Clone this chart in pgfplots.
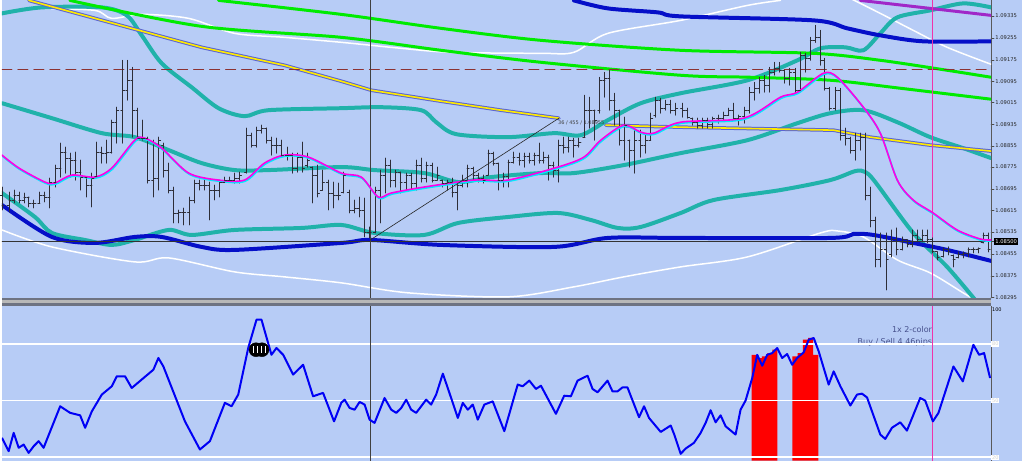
\documentclass[border=0pt]{standalone}
\usepackage{pgfplots}
\pgfplotsset{compat=1.18}
\usepackage{pgfplotstable}
\usepackage{fontspec}
\setmainfont{DejaVu Sans}

\definecolor{bg}{RGB}{183,204,246}
\definecolor{bandteal}{RGB}{32,178,170}
\definecolor{limeg}{RGB}{0,235,0}
\definecolor{dblue}{RGB}{5,15,200}
\definecolor{purp}{RGB}{160,40,200}
\definecolor{yel}{RGB}{255,235,0}
\definecolor{yelb}{RGB}{90,100,210}
\definecolor{mag}{RGB}{255,0,230}
\definecolor{cyn}{RGB}{0,235,255}
\definecolor{rsi}{RGB}{0,0,245}
\definecolor{pinkv}{RGB}{240,50,170}
\definecolor{dashred}{RGB}{140,50,50}
\definecolor{barc}{RGB}{45,45,55}
\definecolor{sepc}{RGB}{110,115,130}
\definecolor{txtb}{RGB}{70,80,140}

\pgfdeclareplotmark{otick}{\pgfpathmoveto{\pgfqpoint{-2pt}{0pt}}\pgfpathlineto{\pgfqpoint{0pt}{0pt}}\pgfusepathqstroke}
\pgfdeclareplotmark{ctick}{\pgfpathmoveto{\pgfqpoint{0pt}{0pt}}\pgfpathlineto{\pgfqpoint{2pt}{0pt}}\pgfusepathqstroke}

% OHLC bars: x position, high, low, open, close (pixel rows, price scale on right axis)
\pgfplotstableread{
x h l o c
0 187 210 195 205
7 192 212 205 200
12 190 203 200 195
17 192 203 195 200
22 193 203 200 197
27 197 207 197 203
32 200 208 203 203
38 192 202 203 195
43 192 202 195 197
48 178 208 197 182
54 165 187 182 168
59 143 177 168 152
64 147 173 152 158
69 153 177 158 160
74 152 180 160 172
79 160 190 172 177
85 177 197 177 185
90 173 207 185 178
95 142 177 176 152
100 147 163 152 153
105 140 163 153 152
110 120 153 152 122
115 107 143 122 110
121 60 143 110 90
126 60 100 90 80
131 67 137 80 110
136 108 140 110 138
141 120 140 138 138
146 137 183 138 180
152 140 197 180 178
157 137 190 178 140
162 143 177 145 170
167 163 193 170 190
172 187 223 190 213
177 210 223 213 212
182 208 225 212 212
188 197 225 212 200
193 180 203 200 183
198 180 190 183 185
203 180 190 185 185
208 182 220 185 190
213 185 200 190 190
218 180 197 190 182
223 177 182 182 180
228 177 182 180 180
233 173 183 180 178
238 172 183 178 175
245 128 173 172 135
250 133 147 135 145
255 127 147 145 130
260 125 133 130 128
265 128 143 128 140
270 137 155 140 145
275 138 153 145 145
280 140 157 145 155
286 147 160 155 155
291 153 173 155 168
296 153 172 168 157
301 142 172 157 168
306 153 167 165 160
311 167 203 167 175
316 165 197 175 193
321 170 190 190 182
327 180 210 182 193
332 182 208 193 195
337 183 200 195 195
342 172 193 192 175
348 190 213 192 210
353 200 213 210 208
358 197 217 208 210
363 198 237 210 232
368 227 238 232 232
374 187 233 232 190
379 170 223 190 175
384 158 193 175 165
389 160 187 165 180
394 170 187 180 172
399 172 193 172 182
405 173 190 182 175
410 173 190 175 183
415 160 190 183 165
420 158 182 165 178
425 162 182 178 165
431 163 182 165 180
436 167 180 180 175
441 180 187 180 183
446 180 190 183 182
451 178 197 182 192
456 183 210 192 185
461 175 187 185 180
466 165 187 180 168
472 167 180 168 175
477 173 182 175 178
482 175 183 178 180
487 150 175 175 153
492 152 165 153 163
497 163 190 163 180
502 173 187 180 176
507 160 187 176 162
512 152 163 162 157
518 153 165 157 160
523 153 167 160 156
528 153 163 156 160
533 153 165 160 155
538 143 163 155 160
543 152 163 160 157
548 155 180 157 165
553 162 177 165 170
558 140 182 170 145
563 137 153 145 147
568 137 152 147 140
573 138 157 140 145
578 138 147 145 142
584 95 137 137 110
589 97 128 110 110
594 110 140 110 120
599 77 113 110 80
604 72 97 80 78
609 70 110 78 100
614 93 125 100 110
619 110 145 110 140
624 117 160 140 125
629 140 167 140 150
634 130 173 150 140
640 130 157 140 145
645 135 153 145 140
650 113 140 140 118
655 97 117 115 100
660 98 113 100 108
665 100 110 108 104
670 100 113 104 110
675 103 115 110 108
682 103 117 108 110
687 108 118 110 117
692 118 125 118 122
697 118 128 122 125
702 118 128 125 120
707 118 128 120 124
712 117 128 124 118
718 115 123 118 118
723 112 120 118 115
728 108 115 115 110
733 103 120 110 118
738 115 125 118 116
744 107 123 116 110
749 87 113 110 92
754 82 100 92 88
759 77 93 88 80
764 75 92 80 85
769 67 92 85 72
774 62 75 72 68
779 62 72 68 70
784 70 83 70 78
789 68 85 78 72
795 68 93 72 90
800 52 90 90 55
805 53 72 55 58
810 37 60 58 40
815 25 42 40 37
820 30 65 37 60
824 58 90 60 88
829 87 110 88 108
835 87 110 108 90
840 88 140 90 135
845 128 145 135 138
850 137 153 138 150
855 133 160 150 140
860 133 150 140 137
865 133 200 137 195
870 187 227 195 220
875 217 267 220 260
880 233 267 260 250
886 233 290 250 260
891 230 257 255 240
896 228 255 240 250
902 237 250 250 240
907 240 247 240 245
912 230 247 245 235
917 230 242 235 240
922 230 242 240 235
927 230 243 235 240
932 238 253 240 252
937 252 260 252 258
943 248 257 257 250
948 247 255 250 252
953 255 267 256 260
958 252 258 258 255
963 252 258 255 254
968 248 257 254 250
973 248 253 250 250
978 248 253 250 249
983 233 243 243 235
988 233 252 235 250
}\bars

\pgfplotstableread{
x y
0 155
17 168
43 182
53 183
70 175
93 177
110 168
133 140
143 138
160 148
187 173
217 180
243 180
263 163
283 155
307 157
340 173
360 177
377 197
390 193
423 187
473 180
507 180
557 167
583 157
600 140
623 125
640 132
653 133
680 122
743 118
780 97
797 92
823 73
837 77
863 107
880 133
897 180
913 200
933 213
957 230
980 239
991 240
}\maline

\begin{document}
\begin{tikzpicture}
\fill[bg] (0,0) rectangle (1022pt,-461pt);

\begin{axis}[
  at={(0pt,0pt)}, anchor=north west, scale only axis,
  width=991pt, height=298pt,
  xmin=0, xmax=991, ymin=0, ymax=298, y dir=reverse,
  hide x axis, axis y line*=right,
  axis line style={-, draw=black!65, line width=0.8pt},
  ytick={15.7,37.5,59.7,81,102.5,124,145.7,167,189,210.7,232,254,276,297.7},
  yticklabels={1.09335,1.09255,1.09175,1.09095,1.09015,1.08935,1.08855,1.08775,1.08695,1.08615,1.08535,1.08455,1.08375,1.08295},
  yticklabel style={font=\fontsize{5.2}{6}\selectfont, text=black!85, inner sep=1.2pt},
  tick align=outside, major tick length=3pt,
  tick style={black!70, line width=0.6pt},
  extra y ticks={241.5}, extra y tick labels={1.08500},
  extra y tick style={yticklabel style={fill=black, text=white}},
  line join=round, line cap=round,
]
% white envelope lines
\addplot[white, line width=1.5pt, smooth] coordinates {(43,8)(93,10)(110,18)(140,14)(187,18)(233,33)(283,37)(340,42)(400,48)(450,52)(540,53)(573,52)(607,33)(680,20)(747,5)(780,0)};
\addplot[white, line width=1.5pt, smooth] coordinates {(850,-2)(880,13)(913,30)(947,47)(991,64)};
\addplot[white, line width=1.5pt, smooth] coordinates {(0,230)(50,247)(133,262)(167,258)(233,272)(283,277)(340,283)(407,293)(507,297)(573,287)(623,277)(680,267)(747,257)(820,233)(837,231)(863,237)(897,260)(930,273)(963,293)(975,300)};
% teal bands
\addplot[bandteal, line width=4pt, smooth] coordinates {(0,13)(40,7)(100,7)(125,15)(140,35)(160,63)(190,87)(217,108)(243,116)(267,110)(340,108)(380,107)(420,110)(435,122)(455,134)(507,137)(553,133)(580,135)(607,120)(640,103)(680,93)(747,80)(797,60)(820,48)(845,47)(863,50)(880,33)(897,17)(930,10)(963,3)(991,7)};
\addplot[bandteal, line width=4pt, smooth] coordinates {(0,103)(50,118)(100,133)(133,137)(167,150)(200,163)(233,170)(267,170)(340,167)(373,170)(423,173)(457,182)(490,177)(540,173)(573,173)(623,165)(680,153)(747,140)(797,123)(830,113)(863,110)(897,122)(930,137)(963,148)(991,158)};
\addplot[bandteal, line width=4pt, smooth] coordinates {(0,193)(33,217)(50,233)(83,240)(110,245)(133,240)(167,230)(190,235)(233,230)(300,228)(340,225)(373,233)(423,235)(457,223)(507,217)(557,213)(590,220)(617,228)(640,227)(680,213)(713,200)(780,190)(830,180)(855,171)(865,172)(875,182)(913,233)(947,267)(975,300)};
% green lines
\addplot[limeg, line width=3pt, smooth] coordinates {(217,0)(340,14)(440,28)(540,40)(680,50)(813,53)(880,60)(947,70)(991,77)};
\addplot[limeg, line width=3pt, smooth] coordinates {(68,0)(200,26)(340,37)(440,50)(540,62)(680,75)(750,77)(830,80)(900,88)(991,99)};
% dark blue lines
\addplot[dblue, line width=4pt, smooth] coordinates {(573,0)(607,8)(657,12)(680,16)(813,20)(847,28)(880,35)(923,41)(991,41)};
\addplot[dblue, line width=4pt, smooth] coordinates {(0,205)(50,237)(93,243)(133,237)(160,237)(200,247)(233,250)(340,243)(369,240)(440,245)(553,247)(607,238)(680,238)(830,238)(853,234)(873,235)(913,243)(947,250)(991,261)};
% purple line
\addplot[purp, line width=3pt, smooth] coordinates {(860,0)(930,8)(991,15)};
% yellow line with blue border
\addplot[yelb, line width=3.6pt] coordinates {(27,0)(130,28)(200,47)(283,65)(340,81)(370,90)(440,101)(500,110)(558,118)};
\addplot[yel, line width=1.6pt] coordinates {(27,0)(130,28)(200,47)(283,65)(340,81)(370,90)(440,101)(500,110)(558,118)};
\addplot[yelb, line width=3.6pt] coordinates {(605,125)(680,127)(833,130)(870,137)(930,145)(991,151)};
\addplot[yel, line width=1.6pt] coordinates {(605,125)(680,127)(833,130)(870,137)(930,145)(991,151)};
% reference lines
\addplot[dashred, line width=1pt, dash pattern=on 10pt off 6pt] coordinates {(0,69.3)(991,69.3)};
\addplot[black!80, line width=0.7pt] coordinates {(0,241.5)(991,241.5)};
\addplot[black!75, line width=0.8pt] coordinates {(369,0)(369,298)};
\addplot[pinkv, line width=1pt] coordinates {(932,0)(932,298)};
% OHLC bars: vertical high-low range as error bars around the open, open tick as mark
\addplot[only marks, mark=otick, barc, line width=0.9pt,
  error bars/.cd, y dir=both, y explicit, error mark=none,
  error bar style={barc, line width=0.9pt}]
  table[x=x, y=o, y error plus expr=\thisrow{l}-\thisrow{o}, y error minus expr=\thisrow{o}-\thisrow{h}] {\bars};
\addplot[only marks, mark=ctick, barc, line width=0.9pt] table[x=x, y=c] {\bars};
% moving averages
\addplot[cyn, line width=1.6pt, smooth, yshift=-1.2pt, xshift=0.6pt] table[x=x,y=y] {\maline};
\addplot[mag, line width=1.6pt, smooth] table[x=x,y=y] {\maline};
% trend line
\addplot[black!85, line width=0.6pt] coordinates {(369,240)(558,118)};
\node[anchor=west, font=\fontsize{5}{6}\selectfont, text=black!75, inner sep=0pt] at (axis cs:557,123) {36 / 455 / 1.08955};
\end{axis}

% separator between panels
\fill[sepc] (0,-298pt) rectangle (991pt,-300.3pt);
\fill[black!28] (0,-300.3pt) rectangle (991pt,-303.5pt);
\fill[sepc] (0,-303.5pt) rectangle (991pt,-306pt);

\begin{axis}[
  at={(0pt,-306.5pt)}, anchor=north west, scale only axis,
  width=991pt, height=154.5pt,
  xmin=0, xmax=991, ymin=18.25, ymax=100,
  hide x axis, axis y line*=right,
  axis line style={-, draw=black!65, line width=0.8pt},
  ytick={20,50,80}, yticklabels={20,50,80},
  yticklabel style={font=\fontsize{5}{6}\selectfont, fill=white, text=black!18, inner sep=0.8pt},
  major tick length=0pt,
  extra y ticks={100}, extra y tick labels={100},
  extra y tick style={yticklabel style={fill=none, text=black, yshift=-3.5pt}},
  line join=round,
]
\node[anchor=east, font=\fontsize{8}{9}\selectfont, text=txtb, inner sep=0pt] at (axis cs:932,87.6) {1x 2-color};
\node[anchor=east, font=\fontsize{8}{9}\selectfont, text=txtb, inner sep=0pt] at (axis cs:932,80.9) {Buy / Sell 4.46pips};
\addplot[ybar, bar width=5.2pt, fill=red, draw=none] coordinates {(753.6,74.3)(758.8,72.5)(764,73.5)(769.2,75)(774.4,77)(794.6,73.4)(799.8,75.2)(805,82.3)(810.2,83.2)(815.4,74.3)};
\addplot[white, line width=1.6pt] coordinates {(0,80)(991,80)};
\addplot[white, line width=1.6pt] coordinates {(0,50)(991,50)};
\addplot[white, line width=1.6pt] coordinates {(0,20)(991,20)};
\addplot[black!75, line width=0.8pt] coordinates {(369,18.25)(369,100)};
\addplot[pinkv, line width=1pt] coordinates {(932,18.25)(932,100)};
\addplot[rsi, line width=2pt] coordinates {
(0,30.3)(6.7,23.2)(11.7,32.9)(16.7,25.0)(21.7,26.7)(26.7,22.3)(31.7,25.8)(36.7,28.5)(41.7,25.0)
(58.3,47.0)(68.3,43.5)(78.3,42.2)(83.3,35.6)(90,44.3)(100,53.2)(110,57.6)(115,62.9)(123.3,62.9)(130,56.7)
(151.7,66.4)(156.7,72.6)(161.7,68.1)(183.3,39.0)(198.3,24.1)(208.3,28.5)(223.3,48.8)(230,47.0)(236.7,53.2)
(246.7,77.9)(255,92.9)(260,92.9)(270,74.3)(275,77.9)(281.7,74.3)(291.7,63.8)(301.7,69.0)(311.7,52.3)(321.7,54.1)(332.7,39.0)
(340,48.9)(343.3,50.5)(348.3,46.1)(353.3,45.2)(358.3,49.3)(363.3,47.9)(368.3,39.9)(373.3,38.2)(383.3,51.4)(390,45.2)(395,43.5)
(400,46.1)(405,50.5)(410,45.2)(415,43.5)(425,50.5)(430,47.9)(435,53.2)(441.7,64.3)(448.3,54.1)(456.7,40.8)(461.7,48.8)
(466.7,45.2)(471.7,47.9)(476.7,39.9)(483.3,47.9)(491.7,49.6)(503.3,33.8)(516.7,58.5)(521.7,57.6)(528.3,60.6)(535,56.2)
(540,57.9)(555,43.0)(563.3,52.6)(570,52.3)(576.7,60.6)(586.7,63.2)(591.7,56.2)(596.7,54.4)(606.7,60.6)(611.7,54.9)
(616.7,54.9)(621.7,57.0)(626.7,57.0)(638.3,41.2)(643.3,47.0)(648.3,40.8)(660,33.4)(670,36.8)(673.3,32.4)(680,21.8)
(685,24.6)(693.3,27.6)(700,32.9)(705,38.2)(710,44.9)(715,38.5)(720,42.2)(725,36.4)(735,32.0)(740,45.2)(745,50.0)
(751.7,62.0)(756.7,74.3)(761.7,68.5)(766.7,74.3)(771.7,75.2)(776.7,77.9)(781.7,72.6)(786.7,74.7)(791.7,69.0)(796.7,72.6)
(803.3,75.6)(808.3,82.3)(813.3,83.2)(818.3,76.1)(828.3,58.5)(833.3,65.5)(840,57.6)(850,47.4)(856.7,53.2)(861.7,53.7)
(866.7,51.7)(880,32.0)(885,29.7)(891.7,35.6)(900,38.5)(906.7,34.1)(920,51.4)(925,50.0)(932.7,39.0)(938.3,43.5)
(953.3,68.1)(962.7,60.2)(973.3,79.6)(979,74.3)(984,75.2)(990,62.0)};
\addplot[only marks, mark=*, mark size=7pt, black] coordinates {(254.5,77)(260.5,77)};
\addplot[only marks, mark=|, mark size=3.5pt, white, line width=0.7pt] coordinates {(252,77)(256,77)(260,77)(264,77)};
\end{axis}
\end{tikzpicture}
\end{document}
